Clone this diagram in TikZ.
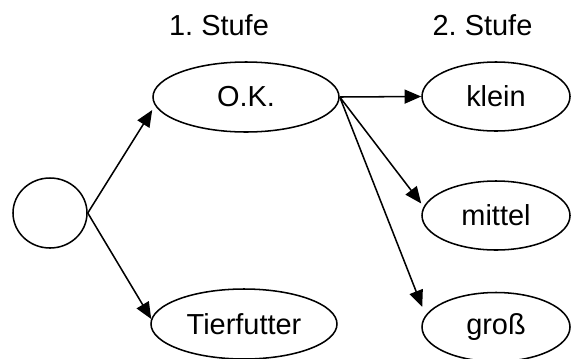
\documentclass[tikz,border=0pt]{standalone}
\usepackage{fontspec}
\setmainfont{Liberation Sans}
\usetikzlibrary{shapes.geometric,arrows.meta,calc}
\frenchspacing
\begin{document}
\begin{tikzpicture}[x=0.75pt,y=-0.75pt,
  every node/.style={font=\fontsize{21.7}{26}\selectfont},
  oval/.style={draw,ellipse,line width=1.15pt,inner sep=0pt},
  big/.style={oval,minimum width=139.5pt,minimum height=52.5pt},
  small/.style={oval,minimum width=111pt,minimum height=51.75pt},
  arr/.style={line width=1.15pt,-{Triangle[length=12.5pt,width=10.5pt]}},
  lbl/.style={inner sep=0pt}]
\useasboundingbox (0,0) rectangle (571,358);
\node[oval,minimum width=55.5pt,minimum height=52.5pt] (c) at (50,213) {};
\node[big] (ok) at (246,97) {O.K.};
\node[big] (tier) at (244,324) {Tierfutter};
\node[small] (klein) at (496,96.5) {klein};
\node[small] (mittel) at (496,215.5) {mittel};
\node[small] (gross) at (496,327) {groß};
\node[lbl] (s1) at (219,25) {1.\ Stufe};
\node[lbl] (s2) at (482.5,25) {2.\ Stufe};
\draw[arr] (c.east) -- ($(ok.west)+(0,13)$);
\draw[arr] (c.east) -- ($(tier.west)+(1,-5)$);
\draw[arr] (ok.east) -- (klein.west);
\draw[arr] (ok.east) -- ($(mittel.west)+(0,-12)$);
\draw[arr] (ok.east) -- ($(gross.west)+(1,-20)$);
\end{tikzpicture}
\end{document}
